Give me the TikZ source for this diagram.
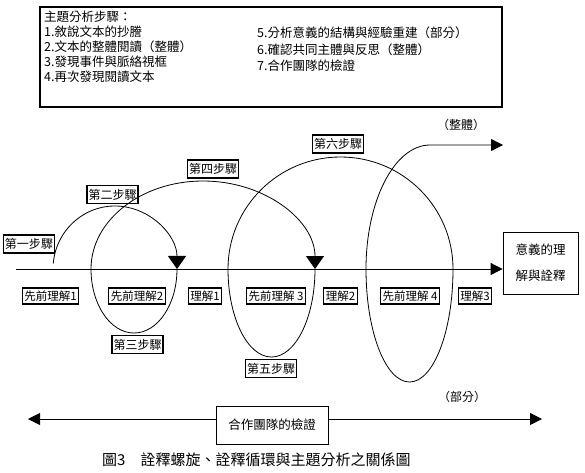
\documentclass[tikz,border=0pt]{standalone}
\usepackage{fontspec}
\setmainfont{Noto Sans CJK TC}
\usetikzlibrary{arrows.meta}
\begin{document}
\begin{tikzpicture}[x=1pt,y=-1pt,
  lbl/.style={draw, line width=1.3pt, fill=white, font=\fontsize{11.5}{13}\selectfont, inner xsep=2pt, inner ysep=1.5pt, minimum height=16pt},
  steplbl/.style={draw, line width=1.3pt, fill=white, font=\fontsize{12}{13}\selectfont, inner xsep=1.5pt, inner ysep=1.5pt, minimum height=18pt},
  curve/.style={line width=0.8pt},
  tri/.style={-{Triangle[width=12pt,length=12pt]}},
  bigtri/.style={-{Triangle[width=18pt,length=13pt]}},
  toptext/.style={font=\fontsize{12.5}{14}\selectfont, inner sep=0pt, anchor=west},
  plain/.style={font=\fontsize{12}{14}\selectfont, inner sep=0pt},
  ]
\useasboundingbox (0,0) rectangle (585,472);

% top box with steps
\node[draw, line width=1.5pt, minimum width=462pt, minimum height=100pt, inner sep=0pt] (topbox) at (271,57) {};
\node[toptext] (t0) at (44,17) {主題分析步驟：};
\node[toptext] (t1) at (44,32) {1.敘說文本的抄謄};
\node[toptext] (t2) at (44,47) {2.文本的整體閱讀（整體）};
\node[toptext] (t3) at (44,62) {3.發現事件與脈絡視框};
\node[toptext] (t4) at (44,77) {4.再次發現閱讀文本};
\node[toptext] (t5) at (257,33) {5.分析意義的結構與經驗重建（部分）};
\node[toptext] (t6) at (257,50) {6.確認共同主體與反思（整體）};
\node[toptext] (t7) at (257,66) {7.合作團隊的檢證};

% right box
\node[draw, line width=0.8pt, minimum width=75pt, minimum height=62pt, align=center, font=\fontsize{12.5}{26}\selectfont, inner sep=0pt] (meaning) at (540.5,263) {意義的理\\解與詮釋};

% axis
\coordinate (axL) at (16,269);
\draw[line width=0.8pt, tri] (axL) -- (axL -| meaning.west);

% understanding labels
\node[lbl] (p1) at (50.5,296) {先前理解1};
\node[lbl] (p2) at (137,296) {先前理解2};
\node[lbl] (u1) at (205,296) {理解1};
\node[lbl] (p3) at (276,296) {先前理解 3};
\node[lbl] (u2) at (340.5,296) {理解2};
\node[lbl] (p4) at (410,296) {先前理解 4};
\node[lbl] (u3) at (475,296) {理解3};

% step labels
\node[steplbl] (st1) at (29,244) {第一步驟};
\node[steplbl] (st2) at (112.5,194.5) {第二步驟};
\node[steplbl] (st3) at (137.5,344.5) {第三步驟};
\node[steplbl] (st4) at (213,169) {第四步驟};
\node[steplbl] (st5) at (271,368.5) {第五步驟};
\node[steplbl] (st6) at (338,144) {第六步驟};

% spiral
\coordinate (s0) at (53.24,263.5);
\coordinate (a1) at (177,269);
\coordinate (a2) at (315,269);
\coordinate (wholeEnd) at (503,145);
\draw[curve, bigtri] (s0) arc[start angle=185, end angle=360, x radius=62, y radius=63];
\draw[curve, bigtri] (a1) arc[start angle=0, end angle=180, x radius=43, y radius=64]
  arc[start angle=180, end angle=360, x radius=112, y radius=88];
\draw[curve, tri] (a2) arc[start angle=0, end angle=180, x radius=43.5, y radius=88]
  arc[start angle=180, end angle=360, x radius=112.5, y radius=112]
  arc[start angle=0, end angle=180, x radius=43.5, y radius=113]
  arc[start angle=180, end angle=270, x radius=64, y radius=124] -- (wholeEnd);

\node[plain] (whole) at (461,125) {（整體）};
\node[plain] (part) at (462,397) {（部分）};

% bottom verification box with double arrow
\node[draw, line width=0.8pt, minimum width=112pt, minimum height=38pt, font=\fontsize{12.5}{14}\selectfont] (verify) at (272,425) {合作團隊的檢證};
\coordinate (vL) at (28,419);
\coordinate (vR) at (542,419);
\draw[line width=0.8pt, tri] (vL -| verify.west) -- (vL);
\draw[line width=0.8pt, tri] (vR -| verify.east) -- (vR);

% caption
\node[font=\fontsize{15}{17}\selectfont, anchor=west, inner sep=0pt] (cap) at (102,460) {圖3　詮釋螺旋、詮釋循環與主題分析之關係圖};
\end{tikzpicture}
\end{document}
